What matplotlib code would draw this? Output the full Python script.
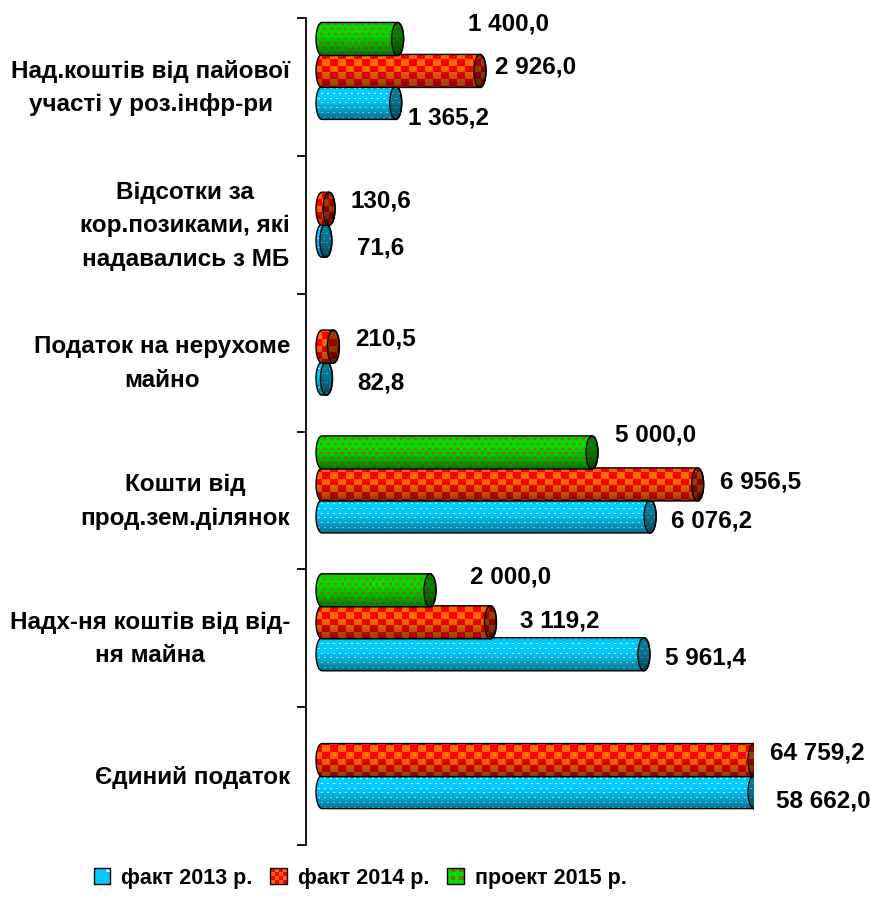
import numpy as np
import matplotlib
matplotlib.use("Agg")
import matplotlib.pyplot as plt
from matplotlib.path import Path
from matplotlib.patches import PathPatch, Ellipse, Rectangle, Patch
from matplotlib.legend_handler import HandlerBase

# ---------------- data ----------------
categories = ["Над.коштів від пайової\nучасті у роз.інфр-ри",
              "Відсотки за\nкор.позиками, які\nнадавались з МБ",
              "Податок на нерухоме\nмайно",
              "Кошти від\nпрод.зем.ділянок",
              "Надх-ня коштів від від-\nня майна",
              "Єдиний податок"]
series_names = ["факт 2013 р.", "факт 2014 р.", "проект 2015 р."]
fact_2013 = [1365.2, 71.6, 82.8, 6076.2, 5961.4, 58662.0]
fact_2014 = [2926.0, 130.6, 210.5, 6956.5, 3119.2, 64759.2]
project_2015 = [1400.0, None, None, 5000.0, 2000.0, None]
axis_max = 8000

# ---------------- style / layout ----------------
plt.rcParams['font.family'] = ['Liberation Sans', 'DejaVu Sans']
plt.rcParams['font.weight'] = 'bold'
FS_CAT = 17.5
FS_LAB = 17.5
FS_LEG = 15.5

W, H = 871, 903
ax_left_px, ax_right_px = 306, 754
ax_top_px, ax_bot_px = 19, 846
zero_px = 322

# bar geometry (in category units) and label offsets (pixels, dy downward)
kinds = ["blue", "red", "green"]
bar_off = {"blue": 0.116, "red": -0.116, "green": -0.348}
bar_h = 0.24
cap_px = 6.0
lab_off = {
    "blue": [(12, 14), (31, 6), (31, 3), (21, 4), (21, 3), (22, 8)],
    "red": [(15, -5), (21, -9), (22, -9), (22, -3), (30, -2), (16, -8)],
    "green": [(70, -16), None, None, (23, -18), (40, -14), None],
}


def tex(kind, X, Y, t, cap):
    """Return RGB texture for pixel grids X, Y with relative vertical pos t."""
    if kind == "blue":
        base = np.array([0.0, 0.80, 1.0])
        img = np.ones(X.shape + (3,)) * base
        row = Y // 5
        dot = (((X + 3 * (row % 2)) % 6) < 2) & (Y % 5 == 2)
        img[dot] = [0.88, 0.95, 1.0]
    elif kind == "red":
        img = np.ones(X.shape + (3,)) * np.array([1.0, 0.0, 0.0])
        chk = ((X // 8) + (Y // 7)) % 2 == 0
        img[chk] = [1.0, 0.42, 0.0]
    else:
        img = np.ones(X.shape + (3,)) * np.array([0.0, 0.86, 0.0])
        row = Y // 5
        dash = (((X + 3 * (row % 2)) % 7) < 3) & (Y % 5 >= 2) & (Y % 5 <= 3)
        img[dash] = [0.6, 0.42, 0.12]
    f = 1.0 - 0.45 * np.clip((t - 0.35) / 0.65, 0, 1) ** 1.4
    f = f * (1.0 - 0.12 * np.clip((0.15 - t) / 0.15, 0, 1))
    img = img * f[..., None]
    img[cap] = img[cap] * 0.6
    return np.clip(img, 0, 1)


def draw_cyl(ax, value, yc, h, kind, ppx, ppy, z):
    v = min(value, axis_max)
    a = cap_px / ppx
    x0, x1 = 0.0, v
    ytop, ybot = yc - h / 2, yc + h / 2
    th1 = np.linspace(np.pi / 2, 3 * np.pi / 2, 40)
    th2 = np.linspace(-np.pi / 2, np.pi / 2, 40)
    left = np.c_[x0 + a * np.cos(th1), yc - (h / 2) * np.sin(th1)]
    right = np.c_[x1 + a * np.cos(th2), yc - (h / 2) * np.sin(th2)]
    verts = np.vstack([left, right, left[:1]])
    codes = [Path.MOVETO] + [Path.LINETO] * (len(verts) - 2) + [Path.CLOSEPOLY]
    patch = PathPatch(Path(verts, codes), facecolor="none", edgecolor="black",
                      lw=1.0, zorder=z + 0.1)
    ax.add_patch(patch)
    xl, xr = x0 - a, x1 + a
    Wp = int(np.ceil((xr - xl) * ppx)) + 1
    Hp = int(np.ceil(h * ppy)) + 1
    ii, jj = np.meshgrid(np.arange(Wp), np.arange(Hp))
    X = ii + int(round(xl * ppx)) + 1000
    Y = jj + int(round(ytop * ppy)) + 1000
    xd = xl + (ii + 0.5) / Wp * (xr - xl)
    yd = ytop + (jj + 0.5) / Hp * h
    t = (jj + 0.5) / Hp
    cap = ((xd - x1) / a) ** 2 + ((yd - yc) / (h / 2)) ** 2 <= 1.0
    img = tex(kind, X, Y, t, cap)
    im = ax.imshow(img, extent=(xl, xr, ybot, ytop), origin="upper",
                   interpolation="nearest", aspect="auto", zorder=z)
    im.set_clip_path(patch)
    ax.add_patch(Ellipse((x1, yc), 2 * a, h, fill=False, edgecolor="black",
                         lw=1.0, zorder=z + 0.2))
    return v


def fmt(v):
    return f"{v:,.1f}".replace(",", " ").replace(".", ",")


fig = plt.figure(figsize=(W / 100, H / 100), dpi=100)
n = len(categories)
ax = fig.add_axes([ax_left_px / W, 1 - ax_bot_px / H,
                   (ax_right_px - ax_left_px) / W, (ax_bot_px - ax_top_px) / H])
ax.set_autoscale_on(False)
ppx = (ax_right_px - zero_px) / axis_max
ppy = (ax_bot_px - ax_top_px) / n
ax.set_xlim(-(zero_px - ax_left_px) / ppx, axis_max)
ax.set_ylim(n - 0.5, -0.5)

series = {"blue": fact_2013, "red": fact_2014, "green": project_2015}
z = 2
for i in range(n):
    for kind in kinds:
        val = series[kind][i]
        if val is None:
            continue
        yc = i + bar_off[kind]
        vend = draw_cyl(ax, val, yc, bar_h, kind, ppx, ppy, z)
        z += 1
        dx, dy = lab_off[kind][i]
        ax.annotate(fmt(val), xy=(vend, yc), xytext=(dx, -dy),
                    textcoords="offset pixels", ha="left", va="center",
                    fontsize=FS_LAB, fontweight="bold", color="black",
                    annotation_clip=False, zorder=100)

ax.set_xlim(-(zero_px - ax_left_px) / ppx, axis_max)
ax.set_ylim(n - 0.5, -0.5)

for s in ["top", "right", "bottom"]:
    ax.spines[s].set_visible(False)
ax.spines["left"].set_linewidth(1.3)
ax.xaxis.set_visible(False)
ax.set_yticks(range(n))
ax.set_yticklabels(categories)
ax.tick_params(axis="y", which="major", length=0, pad=11.5,
               labelsize=FS_CAT)
ax.set_yticks(np.arange(-0.5, n), minor=True)
ax.tick_params(axis="y", which="minor", length=6.5, width=1.3,
               direction="out")
for lab in ax.get_yticklabels():
    lab.set_multialignment("center")
    lab.set_fontweight("bold")
    lab.set_linespacing(1.58)
    lab.set_verticalalignment("center")
ax.patch.set_alpha(0)


class TexHandler(HandlerBase):
    def __init__(self, kind):
        super().__init__()
        self.kind = kind

    def create_artists(self, legend, orig_handle, xdescent, ydescent,
                       width, height, fontsize, trans):
        s = min(width, height)
        x0 = -xdescent + (width - s) / 2
        y0 = -ydescent + (height - s) / 2
        arts = []
        k = 4
        c = s / k
        for r in range(k):
            for q in range(k):
                if self.kind == "red":
                    col = "#FF6A00" if (r + q) % 2 == 0 else "#FF0000"
                elif self.kind == "blue":
                    col = "#00CCFF" if (r + q) % 3 else "#CCF2FF"
                    if (r + q) % 3 == 0 and (r * q) % 2 == 0:
                        col = "#00CCFF"
                else:
                    col = "#00DD00" if (r + q) % 2 else "#7A6A10"
                    if r % 2 == 0:
                        col = "#00DD00"
                arts.append(Rectangle((x0 + q * c, y0 + r * c), c, c,
                                      facecolor=col, edgecolor="none",
                                      transform=trans))
        arts.append(Rectangle((x0, y0), s, s, facecolor="none",
                              edgecolor="black", lw=1.0, transform=trans))
        return arts


handles = [Patch(label=nm) for nm in series_names]
hmap = {h_: TexHandler(k) for h_, k in zip(handles, kinds)}
fig.legend(handles=handles, labels=series_names, handler_map=hmap,
           loc="center", bbox_to_anchor=(360 / W, 1 - 879 / H), ncol=3,
           frameon=False, fontsize=FS_LEG, handlelength=0.8,
           handleheight=0.8, handletextpad=0.5, columnspacing=0.8,
           prop={"weight": "bold", "size": FS_LEG})

fig.savefig("out.png", dpi=100)
